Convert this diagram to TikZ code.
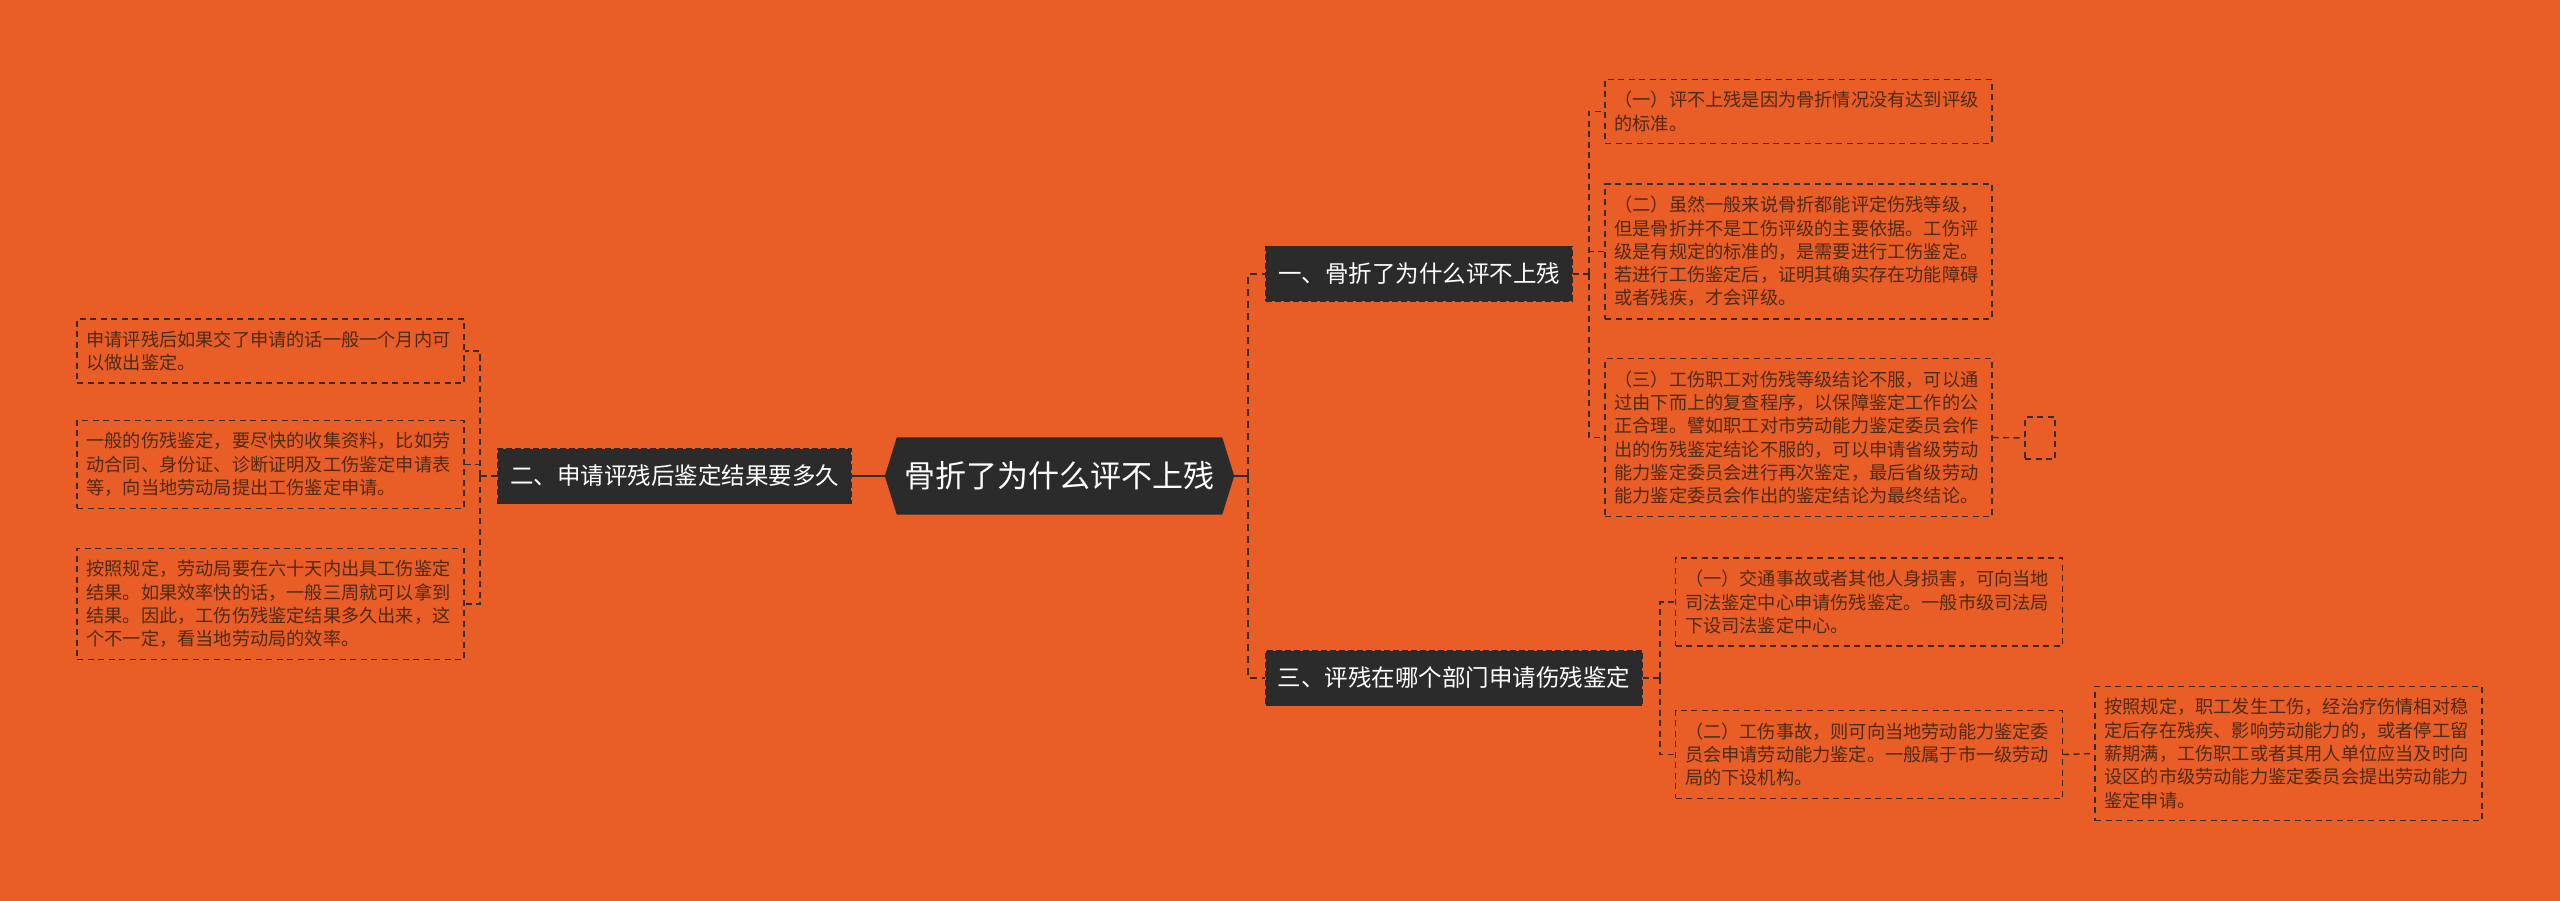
\documentclass[tikz,border=0pt]{standalone}
\usepackage{fontspec}
\newfontfamily\cjk{Noto Sans CJK SC}
\usetikzlibrary{backgrounds,calc}
\definecolor{bg}{HTML}{E95D26}
\definecolor{boxc}{HTML}{2B2B2B}
\definecolor{linec}{HTML}{3A2A22}
\definecolor{leaftext}{HTML}{4E2A15}
\begin{document}
\begin{tikzpicture}[x=1pt,y=-1pt,
 leaf/.style={draw=linec, line width=1.4pt, dash pattern=on 6pt off 4.5pt, text=leaftext,
   font=\cjk\fontsize{18.2}{23.3}\selectfont, text width=368pt, align=left,
   inner xsep=9.5pt, inner ysep=12pt},
 emptybox/.style={draw=linec, line width=1.4pt, dash pattern=on 6pt off 4.5pt,
   minimum width=30pt, minimum height=42pt, inner sep=0pt},
 branch/.style={fill=boxc, draw=boxc, line width=1.2pt, dash pattern=on 6pt off 3pt,
   text=white, font=\cjk\fontsize{23.5}{28}\selectfont, minimum height=55pt, inner xsep=12pt},
 hub/.style={text=white, font=\cjk\fontsize{31}{36}\selectfont, minimum width=325pt,
   minimum height=77pt, inner sep=0pt},
 conn/.style={draw=linec, line width=2.6pt},
 maindash/.style={draw=linec, line width=2.2pt, dash pattern=on 7pt off 5pt},
 thin/.style={draw=linec, line width=1.4pt, dash pattern=on 6pt off 4.5pt},
]
\begin{pgfonlayer}{background}
\fill[bg] (0,0) rectangle (2560,901);
\end{pgfonlayer}
\useasboundingbox (0,0) rectangle (2560,901);

% central node
\node[hub] (c) at (1059.5,476) {骨折了为什么评不上残};
\coordinate (cR) at ($(c.east)+(12,0)$);
\coordinate (cL) at ($(c.west)+(-12,0)$);
\begin{pgfonlayer}{background}
\fill[boxc] (c.north west) -- (c.north east) -- (cR) -- (c.south east) -- (c.south west) -- (cL) -- cycle;
\end{pgfonlayer}

% branches
\node[branch] (b1) at (1419,274) {一、骨折了为什么评不上残};
\node[branch] (b2) at (674.5,476) {二、申请评残后鉴定结果要多久};
\node[branch] (b3) at (1454,678) {三、评残在哪个部门申请伤残鉴定};

% left leaves
\node[leaf] (l1) at (270.5,351) {申请评残后如果交了申请的话一般一个月内可\\以做出鉴定。};
\node[leaf] (l2) at (270.5,464.5) {一般的伤残鉴定，要尽快的收集资料，比如劳\\动合同、身份证、诊断证明及工伤鉴定申请表\\等，向当地劳动局提出工伤鉴定申请。};
\node[leaf] (l3) at (270.5,604) {按照规定，劳动局要在六十天内出具工伤鉴定\\结果。如果效率快的话，一般三周就可以拿到\\结果。因此，工伤伤残鉴定结果多久出来，这\\个不一定，看当地劳动局的效率。};

% right leaves of branch 1
\node[leaf] (r1) at (1798.5,111.5) {（一）评不上残是因为骨折情况没有达到评级\\的标准。};
\node[leaf] (r2) at (1798.5,251.5) {（二）虽然一般来说骨折都能评定伤残等级，\\但是骨折并不是工伤评级的主要依据。工伤评\\级是有规定的标准的，是需要进行工伤鉴定。\\若进行工伤鉴定后，证明其确实存在功能障碍\\或者残疾，才会评级。};
\node[leaf] (r3) at (1798.5,437.5) {（三）工伤职工对伤残等级结论不服，可以通\\过由下而上的复查程序，以保障鉴定工作的公\\正合理。譬如职工对市劳动能力鉴定委员会作\\出的伤残鉴定结论不服的，可以申请省级劳动\\能力鉴定委员会进行再次鉴定，最后省级劳动\\能力鉴定委员会作出的鉴定结论为最终结论。};
\node[emptybox] (e1) at (2040,438) {};

% right leaves of branch 3
\node[leaf] (r4) at (1869,602) {（一）交通事故或者其他人身损害，可向当地\\司法鉴定中心申请伤残鉴定。一般市级司法局\\下设司法鉴定中心。};
\node[leaf] (r5) at (1869,754.5) {（二）工伤事故，则可向当地劳动能力鉴定委\\员会申请劳动能力鉴定。一般属于市一级劳动\\局的下设机构。};
\node[leaf] (r6) at (2288.5,753.5) {按照规定，职工发生工伤，经治疗伤情相对稳\\定后存在残疾、影响劳动能力的，或者停工留\\薪期满，工伤职工或者其用人单位应当及时向\\设区的市级劳动能力鉴定委员会提出劳动能力\\鉴定申请。};

% connectors: central to branches
\coordinate (J1) at (1248,476);
\draw[conn] (cR) -- (J1);
\draw[maindash] (J1) |- (b1.west);
\draw[maindash] (J1) |- (b3.west);
\draw[conn] (b2.east) -- (cL);

% branch 2 to left leaves
\coordinate (J2) at (480,476);
\draw[thin] (b2.west) -- (J2);
\draw[thin] (J2) |- (l1.east);
\draw[thin] (J2) |- (l2.east);
\draw[thin] (J2) |- (l3.east);

% branch 1 to its leaves
\coordinate (J3) at (1589,274);
\draw[thin] (b1.east) -- (J3);
\draw[thin] (J3) |- (r1.west);
\draw[thin] (J3) |- (r2.west);
\draw[thin] (J3) |- (r3.west);
\draw[thin] (r3.east) -- (e1.west);

% branch 3 to its leaves
\coordinate (J4) at (1660,678);
\draw[thin] (b3.east) -- (J4);
\draw[thin] (J4) |- (r4.west);
\draw[thin] (J4) |- (r5.west);
\draw[thin] (r5.east) -- (r6.west);
\end{tikzpicture}
\end{document}
